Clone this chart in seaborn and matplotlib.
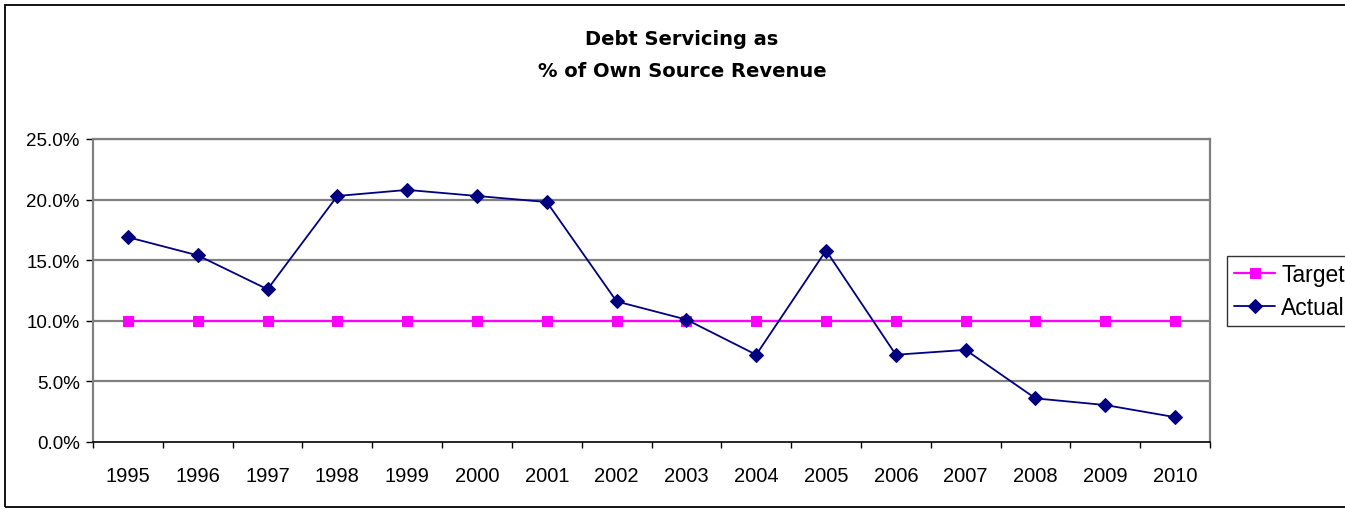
import numpy as np
import pandas as pd
import matplotlib
matplotlib.use('Agg')
import matplotlib.pyplot as plt
from matplotlib.ticker import FixedLocator, FuncFormatter, NullFormatter
from matplotlib.patches import Rectangle
import seaborn as sns

# du lieu doc tu hinh
years = ['1995', '1996', '1997', '1998', '1999', '2000', '2001', '2002',
         '2003', '2004', '2005', '2006', '2007', '2008', '2009', '2010']
target = [10.0] * 16
actual = [16.9, 15.4, 12.6, 20.3, 20.8, 20.3, 19.8, 11.6,
          10.1, 7.2, 15.8, 7.2, 7.6, 3.6, 3.05, 2.05]
y_ticks = [0, 5, 10, 15, 20, 25]

sns.set_style('white')
plt.rcParams['font.family'] = ['Liberation Sans', 'DejaVu Sans']
plt.rcParams['text.color'] = 'black'
plt.rcParams['xtick.color'] = 'black'
plt.rcParams['ytick.color'] = 'black'

pos = np.arange(len(years))
df = pd.DataFrame({'pos': pos, 'Target': target, 'Actual': actual})

fig = plt.figure(figsize=(13.45, 5.10), dpi=100)
ax = fig.add_axes([93 / 1345, 67 / 510, (1210 - 93) / 1345, (443 - 140) / 510])

# luoi ngang
for v in y_ticks[1:]:
    ax.axhline(v, color='#808080', lw=1.6, zorder=0)

sns.lineplot(data=df, x='pos', y='Target', ax=ax, color='#ff00ff', lw=1.6,
             marker='s', markersize=7, markeredgecolor='#ff00ff', label='Target')
sns.lineplot(data=df, x='pos', y='Actual', ax=ax, color='#000080', lw=1.3,
             marker='D', markersize=7, markeredgecolor='#000080', label='Actual')

ax.set_xlim(-0.5, len(years) - 0.5)
ax.set_ylim(0, 25)
ax.xaxis.set_major_locator(FixedLocator(np.arange(len(years) + 1) - 0.5))
ax.xaxis.set_major_formatter(NullFormatter())
ax.xaxis.set_minor_locator(FixedLocator(pos))
ax.set_xticklabels(years, minor=True)
ax.tick_params(axis='x', which='major', direction='out', length=4.5, width=1, color='black', bottom=True)
ax.tick_params(axis='x', which='minor', length=0, labelsize=14.5, pad=17.5, bottom=True)
ax.yaxis.set_major_locator(FixedLocator(y_ticks))
ax.yaxis.set_major_formatter(FuncFormatter(lambda v, _: '%.1f%%' % v))
ax.tick_params(axis='y', direction='out', length=5, width=1, color='black', labelsize=13.5, pad=4.5, left=True)
ax.set_xlabel('')
ax.set_ylabel('')

for s in ['left', 'right', 'top']:
    ax.spines[s].set_color('#808080')
    ax.spines[s].set_linewidth(1.6)
ax.spines['bottom'].set_color('black')
ax.spines['bottom'].set_linewidth(1.2)

leg = ax.legend(loc='center left', bbox_to_anchor=(1227 / 1345, 1 - 292 / 510),
                bbox_transform=fig.transFigure, frameon=True, fancybox=False,
                fontsize=16.5, handlelength=1.8, handletextpad=0.26,
                borderpad=0.3, labelspacing=0.45, borderaxespad=0)
leg.get_frame().set_edgecolor('black')
leg.get_frame().set_linewidth(1)

fig.text(682 / 1345, 1 - 40 / 510, 'Debt Servicing as', ha='center', va='center',
         fontsize=14, fontweight='bold', family='DejaVu Sans')
fig.text(682 / 1345, 1 - 72 / 510, '% of Own Source Revenue', ha='center', va='center',
         fontsize=14, fontweight='bold', family='DejaVu Sans')

# khung vien ngoai
fig.patches.append(Rectangle((5 / 1345, 2 / 510), 1.2, 1 - 8 / 510, transform=fig.transFigure,
                             fill=False, edgecolor='black', lw=1.3))

fig.savefig('out.png', dpi=100)
plt.close()
